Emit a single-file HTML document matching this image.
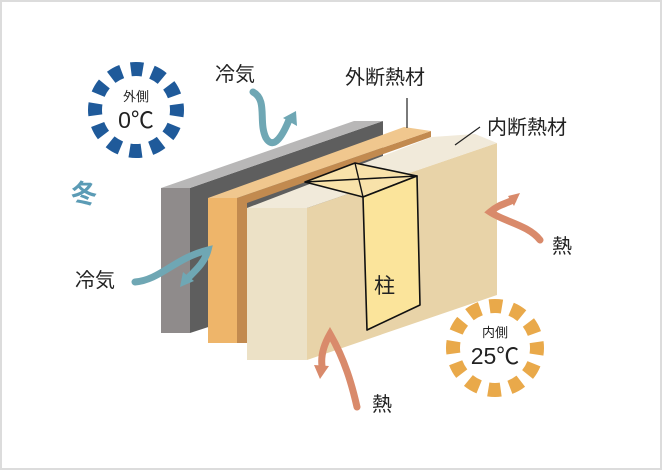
<!DOCTYPE html>
<html><head><meta charset="utf-8"><style>
html,body{margin:0;padding:0;background:#fff}
svg{display:block}
text{font-family:"Liberation Sans","Noto Sans CJK JP",sans-serif;fill:#222}
</style></head><body>
<svg width="662" height="470" viewBox="0 0 662 470" xmlns="http://www.w3.org/2000/svg">
<rect x="1" y="1" width="660" height="468" fill="#fff" stroke="#dcdcdc" stroke-width="2"/>
<circle cx="136" cy="110" r="41" fill="none" stroke="#1f5a9a" stroke-width="14" stroke-dasharray="12 9.5" transform="rotate(-8 136 110)"/>
<text x="136" y="101" font-size="13" text-anchor="middle">外側</text>
<text x="136" y="128" font-size="23" text-anchor="middle">0℃</text>
<circle cx="495" cy="348" r="42" fill="none" stroke="#e9a94a" stroke-width="14" stroke-dasharray="12.5 9.5" transform="rotate(-8 495 348)"/>
<text x="495" y="337" font-size="13" text-anchor="middle">内側</text>
<text x="495" y="364" font-size="23" text-anchor="middle">25℃</text>
<text x="71" y="203" font-size="26" font-weight="bold" style="fill:#5b9bb5">冬</text>
<polygon points="190,188 383,121 383,270 190,333" fill="#5e5e5e"/>
<polygon points="161,188 190,188 383,121 354,121" fill="#b8b7b7"/>
<rect x="161" y="188" width="29" height="145" fill="#8f8b8b"/>
<polygon points="237,198 247,198 247,343 237,343" fill="#c28a4f"/>
<polygon points="237,198 431,131 431,137 247,203" fill="#c28a4f"/>
<polygon points="208,198 237,198 431,131 404,127" fill="#f0c78e"/>
<rect x="208" y="198" width="29" height="145" fill="#eeb56a"/>
<polygon points="307,208 497,143 497,295 307,360" fill="#e8d3a8"/>
<polygon points="247,208 307,208 497,143 475,134 432,137" fill="#f1eada"/>
<rect x="247" y="208" width="60" height="152" fill="#ece1c6"/>
<polygon points="305,182 355,163 417,176 363,197" fill="#f8e2aa" stroke="#111" stroke-width="1.6" stroke-linejoin="round"/>
<line x1="305" y1="182" x2="417" y2="176" stroke="#111" stroke-width="1.4"/>
<line x1="355" y1="163" x2="363" y2="197" stroke="#111" stroke-width="1.4"/>
<polygon points="363,197 417,176 420,305 367,330" fill="#fbe49b" stroke="#111" stroke-width="1.6" stroke-linejoin="round"/>
<text x="374" y="293" font-size="21">柱</text>
<line x1="407" y1="98" x2="407" y2="128" stroke="#222" stroke-width="1.2"/>
<line x1="455" y1="145" x2="480" y2="127" stroke="#222" stroke-width="1.2"/>
<text x="345" y="84" font-size="20">外断熱材</text>
<text x="487" y="134" font-size="20">内断熱材</text>
<text x="215" y="81" font-size="20">冷気</text>
<text x="75" y="287" font-size="20">冷気</text>
<text x="552" y="253" font-size="20">熱</text>
<text x="372" y="411" font-size="20">熱</text>
<path d="M253,92 C268,100 258,122 266,138 C272,148 280,142 289,120" fill="none" stroke="#6fa7b4" stroke-width="7" stroke-linecap="round"/>
<polygon points="283,118 296,111 297,126" fill="#6fa7b4"/>
<path d="M135,282 C160,280 175,258 208,250 C205,262 196,270 188,278" fill="none" stroke="#6fa7b4" stroke-width="7" stroke-linecap="round"/>
<polygon points="180,287 183,272 194,281" fill="#6fa7b4"/>
<path d="M540,240 C528,225 505,222 490,212 C498,205 505,204 513,200" fill="none" stroke="#d98a6b" stroke-width="7" stroke-linecap="round"/>
<polygon points="520,193 508,196 514,206" fill="#d98a6b"/>
<path d="M357,407 C352,385 345,360 330,334 C322,348 321,358 322,366" fill="none" stroke="#d98a6b" stroke-width="7" stroke-linecap="round"/>
<polygon points="320,379 314,365 329,366" fill="#d98a6b"/>
</svg>
</body></html>
